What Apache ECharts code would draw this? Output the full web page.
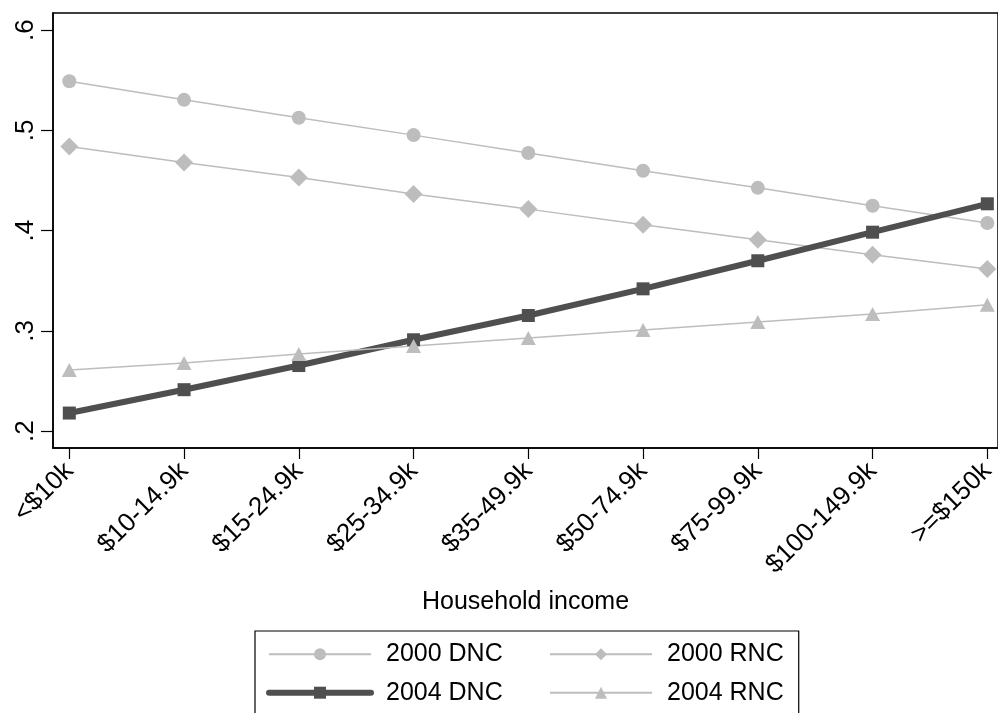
<!DOCTYPE html>
<html>
<head>
<meta charset="utf-8">
<script src="https://cdn.jsdelivr.net/npm/echarts@6/dist/echarts.min.js"></script>
<style>
html,body{margin:0;padding:0;background:#fff;}
#chart{width:998px;height:713px;}
</style>
</head>
<body>
<div id="chart"></div>
<script>
var categories = ['<$10k', '$10-14.9k', '$15-24.9k', '$25-34.9k', '$35-49.9k', '$50-74.9k', '$75-99.9k', '$100-149.9k', '>=$150k'];
var dnc2000 = [0.549, 0.5305, 0.5126, 0.4953, 0.4774, 0.4597, 0.4427, 0.4248, 0.4076];
var rnc2000 = [0.484, 0.468, 0.453, 0.4365, 0.4215, 0.406, 0.391, 0.376, 0.3617];
var dnc2004 = [0.2181, 0.2414, 0.2655, 0.2912, 0.3154, 0.342, 0.3700, 0.3985, 0.4268];
var rnc2004 = [0.261, 0.268, 0.277, 0.285, 0.293, 0.301, 0.309, 0.317, 0.326];
var yTickValues = [0.2, 0.3, 0.4, 0.5, 0.6];
var yTickLabels = ['.2', '.3', '.4', '.5', '.6'];
var xAxisTitle = 'Household income';
var seriesNames = ['2000 DNC', '2000 RNC', '2004 DNC', '2004 RNC'];

function pairs(arr) { return arr.map(function (v, i) { return [i, v]; }); }
var catIdx = categories.map(function (c, i) { return i; });

var FONT = 'Liberation Sans, Arial, Helvetica, sans-serif';
var LIGHT = '#bdbdbd';
var DARK = '#4f4f4f';

var chart = echarts.init(document.getElementById('chart'), null, {renderer: 'canvas'});
chart.setOption({
  animation: false,
  backgroundColor: '#fff',
  textStyle: {fontFamily: FONT},
  grid: {
    left: 53, top: 13, right: 0, bottom: 265,
    show: true, borderColor: '#000', borderWidth: 1.5,
    containLabel: false, outerBoundsMode: 'none'
  },
  xAxis: {
    type: 'value',
    min: -0.142, max: 8.093,
    splitLine: {show: false},
    axisLine: {show: true, onZero: false, lineStyle: {color: '#000', width: 1.5}},
    axisTick: {show: true, length: 11, customValues: catIdx, lineStyle: {color: '#000', width: 1.2}},
    axisLabel: {
      customValues: catIdx, rotate: 45, margin: 19,
      fontSize: 26, color: '#000', fontFamily: FONT,
      formatter: function (v) { return categories[Math.round(v)]; }
    },
    name: xAxisTitle, nameLocation: 'middle', nameGap: 142,
    nameTextStyle: {fontSize: 25, color: '#000', fontFamily: FONT}
  },
  yAxis: {
    type: 'value',
    min: 0.18325, max: 0.6171,
    splitLine: {show: false},
    axisLine: {show: true, onZero: false, lineStyle: {color: '#000', width: 1.5}},
    axisTick: {show: true, length: 12, customValues: yTickValues, lineStyle: {color: '#000', width: 1.2}},
    axisLabel: {
      customValues: yTickValues, rotate: 90, margin: 14,
      fontSize: 26, color: '#000', fontFamily: FONT,
      formatter: function (v) {
        var i = yTickValues.findIndex(function (t) { return Math.abs(t - v) < 1e-6; });
        return i >= 0 ? yTickLabels[i] : '';
      }
    }
  },
  legend: {
    left: 255, top: 631,
    orient: 'horizontal',
    width: 560,
    padding: [10.8, 15, 10, 11],
    itemGap: 13.4,
    itemWidth: 102, itemHeight: 15,
    borderColor: '#000', borderWidth: 1.2,
    backgroundColor: '#fff',
    textStyle: {fontSize: 25, color: '#000', fontFamily: FONT, lineHeight: 25, padding: [0, 0, 0, 10]},
    data: [
      {name: seriesNames[0], textStyle: {width: 149.6}},
      {name: seriesNames[1]},
      {name: seriesNames[2], textStyle: {width: 149.6}, lineStyle: {width: 6, cap: 'round'}},
      {name: seriesNames[3]}
    ]
  },
  series: [
    {
      name: seriesNames[0], type: 'line', data: pairs(dnc2000),
      symbol: 'circle', symbolSize: 14,
      lineStyle: {color: LIGHT, width: 1.5}, itemStyle: {color: LIGHT}
    },
    {
      name: seriesNames[1], type: 'line', data: pairs(rnc2000),
      symbol: 'diamond', symbolSize: 18,
      lineStyle: {color: LIGHT, width: 1.5}, itemStyle: {color: LIGHT}
    },
    {
      name: seriesNames[2], type: 'line', data: pairs(dnc2004),
      symbol: 'rect', symbolSize: 13,
      lineStyle: {color: DARK, width: 6}, itemStyle: {color: DARK}
    },
    {
      name: seriesNames[3], type: 'line', data: pairs(rnc2004),
      symbol: 'triangle', symbolSize: [15, 14],
      lineStyle: {color: LIGHT, width: 1.5}, itemStyle: {color: LIGHT}
    }
  ]
});
</script>
</body>
</html>
